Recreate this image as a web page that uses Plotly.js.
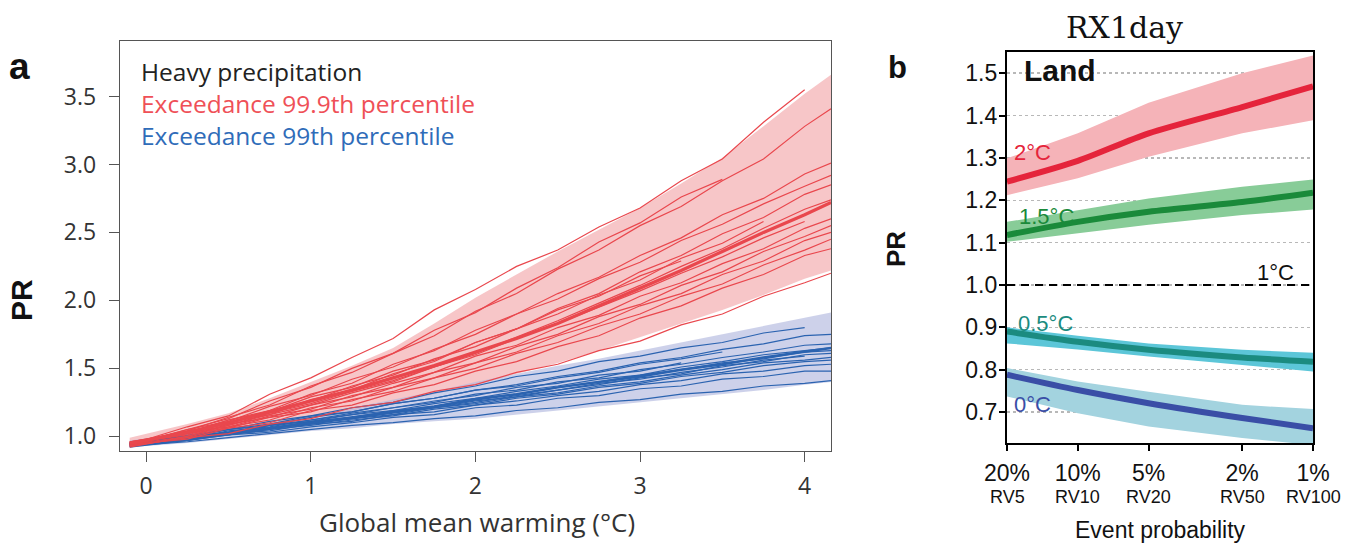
<!DOCTYPE html>
<html><head><meta charset="utf-8">
<script src="https://cdn.plot.ly/plotly-3.0.1.min.js"></script>
<style>html,body{margin:0;padding:0;background:#fff}#chart{width:1355px;height:545px}</style>
</head><body><div id="chart"></div>
<script>
// ---------- Panel a data ----------
const warming = [-0.1,0.25,0.5,0.75,1,1.25,1.5,1.75,2,2.25,2.5,2.75,3,3.25,3.5,3.75,4,4.16];
const redMean  = [0.95,1.03,1.10,1.18,1.26,1.34,1.43,1.52,1.62,1.72,1.83,1.96,2.09,2.22,2.36,2.50,2.63,2.72];
const redUpper = [0.99,1.09,1.17,1.28,1.40,1.52,1.65,1.83,2.02,2.19,2.36,2.52,2.68,2.86,3.05,3.28,3.52,3.66];
const redLower = [0.92,0.98,1.03,1.08,1.13,1.19,1.25,1.31,1.38,1.46,1.54,1.63,1.73,1.83,1.93,2.04,2.16,2.22];
const blueMean  = [0.94,0.99,1.02,1.06,1.10,1.14,1.18,1.22,1.27,1.31,1.36,1.40,1.44,1.49,1.53,1.58,1.62,1.65];
const blueUpper = [0.97,1.02,1.06,1.10,1.15,1.21,1.27,1.33,1.40,1.46,1.52,1.57,1.63,1.69,1.75,1.81,1.87,1.91];
const blueLower = [0.92,0.95,0.98,1.01,1.04,1.06,1.09,1.11,1.13,1.16,1.19,1.22,1.25,1.28,1.31,1.34,1.38,1.40];

const redMembers = [
 [0.94,1.07,1.15,1.31,1.43,1.58,1.72,1.93,2.08,2.25,2.37,2.54,2.68,2.88,3.04,3.31,3.55,null],
 [0.95,1.04,1.14,1.23,1.37,1.47,1.61,1.74,1.92,2.05,2.23,2.37,2.55,2.69,2.88,3.04,3.28,3.41],
 [0.93,1.05,1.13,1.26,1.36,1.50,1.61,1.78,1.91,2.09,2.24,2.43,2.57,2.76,2.89,null,null,null],
 [0.96,1.02,1.12,1.19,1.31,1.39,1.53,1.63,1.78,1.90,2.05,2.17,2.33,2.46,2.63,2.75,2.93,3.01],
 [0.94,1.05,1.11,1.22,1.30,1.42,1.51,1.64,1.75,1.90,2.01,2.16,2.28,2.44,2.56,2.71,2.84,2.92],
 [0.95,1.01,1.10,1.16,1.27,1.34,1.46,1.55,1.69,1.79,1.94,2.05,2.21,2.33,2.49,2.61,2.78,2.85],
 [0.93,1.04,1.09,1.19,1.26,1.37,1.45,1.57,1.66,1.79,1.90,2.04,2.15,2.31,2.42,2.58,null,null],
 [0.94,1.00,1.09,1.14,1.23,1.29,1.39,1.47,1.59,1.67,1.80,1.89,2.03,2.13,2.27,2.38,2.53,2.60],
 [0.96,1.03,1.07,1.15,1.20,1.30,1.36,1.47,1.54,1.66,1.75,1.88,1.97,2.11,2.21,2.36,2.47,2.55],
 [0.93,0.99,1.07,1.12,1.21,1.26,1.36,1.43,1.54,1.62,1.74,1.83,1.96,2.05,2.19,2.29,2.44,2.50],
 [0.95,1.02,1.06,1.14,1.18,1.27,1.33,1.43,1.50,1.61,1.69,1.81,1.90,2.03,2.12,2.26,2.37,2.45],
 [0.94,0.98,1.06,1.10,1.19,1.23,1.32,1.38,1.48,1.55,1.66,1.74,1.87,1.96,2.09,2.19,2.33,2.38],
 [0.93,0.99,1.02,1.09,1.13,1.21,1.25,1.33,1.38,1.47,1.53,1.63,1.70,1.82,1.90,2.03,2.13,2.20],
 [0.95,1.03,1.12,1.18,1.29,1.36,1.48,1.56,1.69,1.79,1.93,2.03,2.18,2.29,null,null,null,null],
 [0.94,1.02,1.08,1.17,1.24,1.33,1.41,1.51,1.61,1.73,1.85,1.98,2.11,2.25,2.38,2.53,2.67,2.74],
 [0.92,1.00,1.08,1.16,1.23,1.32,1.40,1.51,1.60,1.72,1.83,1.95,2.07,2.20,2.32,2.46,2.58,null]
];
const blueMembers = [
 [0.95,1.01,1.05,1.11,1.15,1.21,1.25,1.32,1.37,1.44,1.48,1.55,1.59,1.65,1.69,1.76,1.80,null],
 [0.93,0.99,1.05,1.08,1.14,1.18,1.24,1.28,1.34,1.38,1.44,1.48,1.54,1.58,1.64,1.68,1.74,1.75],
 [0.94,0.98,1.04,1.07,1.12,1.16,1.21,1.25,1.31,1.34,1.40,1.43,1.49,1.53,1.58,1.62,1.67,1.68],
 [0.95,1.00,1.03,1.08,1.11,1.16,1.19,1.24,1.28,1.33,1.37,1.42,1.45,1.51,1.55,1.60,1.63,1.65],
 [0.93,0.98,1.03,1.06,1.11,1.14,1.19,1.22,1.28,1.31,1.36,1.40,1.45,1.49,1.54,1.57,1.62,1.63],
 [0.94,0.99,1.01,1.06,1.09,1.13,1.16,1.21,1.24,1.29,1.32,1.37,1.40,1.45,1.49,1.54,1.56,1.58],
 [0.92,0.97,1.02,1.04,1.09,1.11,1.16,1.18,1.23,1.26,1.30,1.33,1.38,1.41,1.46,1.48,1.52,1.53],
 [0.94,0.97,1.01,1.03,1.07,1.10,1.14,1.16,1.21,1.23,1.28,1.30,1.35,1.37,1.42,1.44,1.48,1.48],
 [0.93,0.96,0.99,1.02,1.05,1.08,1.10,1.13,1.15,1.19,1.21,1.25,1.27,1.31,1.33,1.37,1.39,1.41],
 [0.95,1.00,1.05,1.09,1.15,1.18,1.24,1.28,1.34,1.37,1.43,1.47,1.53,1.57,1.62,null,null,null],
 [0.94,0.99,1.03,1.08,1.12,1.17,1.21,1.26,1.30,1.36,1.39,1.45,1.48,1.54,null,null,null,null],
 [0.95,0.99,1.03,1.06,1.10,1.13,1.18,1.21,1.26,1.29,1.34,1.38,1.43,1.46,1.52,1.55,1.60,1.61],
 [0.93,0.97,1.01,1.05,1.08,1.12,1.15,1.20,1.23,1.28,1.31,1.36,1.39,1.44,1.47,1.52,1.55,1.56],
 [0.94,0.98,1.02,1.05,1.10,1.13,1.17,1.21,1.25,1.30,1.34,1.39,1.42,1.47,1.51,1.56,1.59,null]
];
const aYTicks = [1.0,1.5,2.0,2.5,3.0,3.5];
const aXTicks = [0,1,2,3,4];

// ---------- Panel b data ----------
const returnPeriod = [5,10,20,50,100];
const probLabels = ["20%","10%","5%","2%","1%"];
const rvLabels = ["RV5","RV10","RV20","RV50","RV100"];
const pr2Mid  = [1.244,1.293,1.358,1.420,1.469];
const pr2Hi   = [1.299,1.358,1.430,1.500,1.542];
const pr2Lo   = [1.212,1.252,1.303,1.358,1.389];
const pr15Mid = [1.118,1.149,1.173,1.196,1.218];
const pr15Hi  = [1.149,1.177,1.204,1.232,1.249];
const pr15Lo  = [1.102,1.122,1.142,1.165,1.178];
const pr05Mid = [0.890,0.866,0.847,0.829,0.819];
const pr05Hi  = [0.900,0.880,0.862,0.847,0.840];
const pr05Lo  = [0.862,0.848,0.831,0.811,0.796];
const pr0Mid  = [0.788,0.752,0.721,0.686,0.662];
const pr0Hi   = [0.804,0.772,0.748,0.717,0.707];
const pr0Lo   = [0.737,0.697,0.666,0.639,0.622];
const bYTicks = [0.7,0.8,0.9,1.0,1.1,1.2,1.3,1.4,1.5];

// ---------- build ----------
const W = 1355, H = 545;
const px = v => v / W, py = v => 1 - v / H;
const traces = [];
function band(x, lo, hi, color, xa, ya) {
  const xs = [], ys = [];
  for (let i = 0; i < x.length; i++) { xs.push(x[i]); ys.push(hi[i]); }
  for (let i = x.length - 1; i >= 0; i--) { xs.push(x[i]); ys.push(lo[i]); }
  traces.push({x: xs, y: ys, xaxis: xa, yaxis: ya, type: 'scatter', mode: 'lines',
    fill: 'toself', fillcolor: color, line: {width: 0}, hoverinfo: 'skip'});
}
function line(x, y, color, width, xa, ya, shape, dash) {
  traces.push({x: x, y: y, xaxis: xa, yaxis: ya, type: 'scatter', mode: 'lines',
    line: {color: color, width: width, shape: shape || 'linear', smoothing: 0.8, dash: dash || 'solid'},
    connectgaps: false, hoverinfo: 'skip', cliponaxis: true});
}
const RED = '#e9474d', BLUE = '#2b63b0';
band(warming, redLower, redUpper, 'rgba(242,168,170,0.65)', 'x', 'y');
band(warming, blueLower, blueUpper, 'rgba(178,184,222,0.65)', 'x', 'y');
blueMembers.forEach(m => line(warming, m, BLUE, 1.2, 'x', 'y'));
line(warming, blueMean, BLUE, 2.5, 'x', 'y');
redMembers.forEach(m => line(warming, m, RED, 1.2, 'x', 'y'));
line(warming, redMean, RED, 3.2, 'x', 'y');

// panel b
band(returnPeriod, pr2Lo, pr2Hi, '#f5b3b8', 'x2', 'y2');
band(returnPeriod, pr15Lo, pr15Hi, '#88cc98', 'x2', 'y2');
band(returnPeriod, pr05Lo, pr05Hi, '#5cc6d8', 'x2', 'y2');
band(returnPeriod, pr0Lo, pr0Hi, '#a3d3df', 'x2', 'y2');
line(returnPeriod, pr2Mid, '#e5243b', 6, 'x2', 'y2', 'spline');
line(returnPeriod, pr15Mid, '#1a8a3a', 6, 'x2', 'y2', 'spline');
line(returnPeriod, pr05Mid, '#1b8b80', 6, 'x2', 'y2', 'spline');
line(returnPeriod, pr0Mid, '#3a4ea6', 6, 'x2', 'y2', 'spline');
line([returnPeriod[0], returnPeriod[returnPeriod.length-1]], [1, 1], '#000', 2, 'x2', 'y2', 'linear', '8px,6px');

const aFont = '"Open Sans", "DejaVu Sans", sans-serif';
const bFont = 'Arial, "Liberation Sans", sans-serif';
function ann(text, x, y, size, color, opts) {
  return Object.assign({text: text, x: px(x), y: py(y), xref: 'paper', yref: 'paper', showarrow: false,
    font: {size: size, color: color, family: bFont}, xanchor: 'left', yanchor: 'middle'}, opts || {});
}
const annotations = [
  ann('<b>a</b>', 19, 66, 37, '#111', {xanchor: 'center'}),
  ann('<b>PR</b>', 21, 300, 30, '#111', {xanchor: 'center', textangle: -90}),
  ann('<span style="color:#222">Heavy precipitation</span><br><span style="color:#ef5057">Exceedance 99.9th percentile</span><br><span style="color:#2f6cb9">Exceedance 99th percentile</span>',
      139, 103, 24.5, '#222', {align: 'left', font: {family: aFont, size: 24.5, color: '#222'}}),
  ann('Global mean warming (°C)', 477, 522, 26, '#333', {xanchor: 'center', font: {family: aFont, size: 26, color: '#333'}}),
  ann('RX1day', 1124, 27, 30, '#111', {xanchor: 'center', font: {family: '"DejaVu Serif", "Liberation Serif", serif', size: 30, color: '#111'}}),
  ann('<b>b</b>', 897, 67, 31, '#111', {xanchor: 'center'}),
  ann('<b>PR</b>', 896, 249, 26, '#111', {xanchor: 'center', textangle: -90}),
  ann('<b>Land</b>', 1022, 70, 30, '#111'),
  ann('2°C', 1012, 152, 22, '#e5243b'),
  ann('1.5°C', 1017, 217, 22, '#1a8a3a'),
  ann('1°C', 1255, 272, 22, '#111'),
  ann('0.5°C', 1016, 323, 22, '#1b8b80'),
  ann('0°C', 1012, 404, 22, '#3a4ea6'),
  ann('Event probability', 1160, 530, 23, '#111', {xanchor: 'center'})
];
rvLabels.forEach((t, i) => annotations.push({text: t, x: Math.log10(returnPeriod[i]), y: py(497), xref: 'x2', yref: 'paper',
  showarrow: false, xanchor: 'center', yanchor: 'middle', font: {family: bFont, size: 18, color: '#111'}}));

const layout = {
  width: W, height: H, margin: {l: 0, r: 0, t: 0, b: 0}, showlegend: false,
  paper_bgcolor: '#fff', plot_bgcolor: '#fff',
  xaxis: {domain: [px(120), px(831)], anchor: 'y', range: [-0.159, 4.16], tickvals: aXTicks, ticks: 'outside', ticklen: 10,
    tickcolor: '#555', showline: true, linecolor: '#555', linewidth: 1.3, mirror: true, showgrid: false, zeroline: false,
    ticklabelstandoff: 4, tickfont: {family: aFont, size: 23, color: '#333'}},
  yaxis: {domain: [py(451), py(41)], anchor: 'x', range: [0.892, 3.908], tickvals: aYTicks, tickformat: '.1f', ticks: 'outside', ticklen: 10,
    tickcolor: '#555', showline: true, linecolor: '#555', linewidth: 1.3, mirror: true, showgrid: false, zeroline: false,
    ticklabelstandoff: 8, tickfont: {family: aFont, size: 23, color: '#333'}},
  xaxis2: {domain: [px(1007), px(1313)], anchor: 'y2', type: 'log', range: [Math.log10(5), 2], tickvals: returnPeriod,
    ticktext: probLabels, ticks: 'outside', ticklen: 6, tickwidth: 2, tickcolor: '#000', showline: true, linecolor: '#000', linewidth: 2.2,
    mirror: true, showgrid: false, zeroline: false, ticklabelstandoff: 2, tickfont: {family: bFont, size: 23, color: '#111'}},
  yaxis2: {domain: [py(443), py(52)], anchor: 'x2', range: [0.627, 1.55], tickvals: bYTicks, tickformat: '.1f',
    ticks: 'outside', ticklen: 6, tickwidth: 2, tickcolor: '#000', showline: true, linecolor: '#000', linewidth: 2.2,
    mirror: true, showgrid: true, gridcolor: '#b8b8b8', griddash: 'dot', gridwidth: 1.5, zeroline: false,
    ticklabelstandoff: -3, tickfont: {family: bFont, size: 23, color: '#111'}},
  annotations: annotations
};
Plotly.newPlot('chart', traces, layout, {staticPlot: true, displayModeBar: false});
</script></body></html>
